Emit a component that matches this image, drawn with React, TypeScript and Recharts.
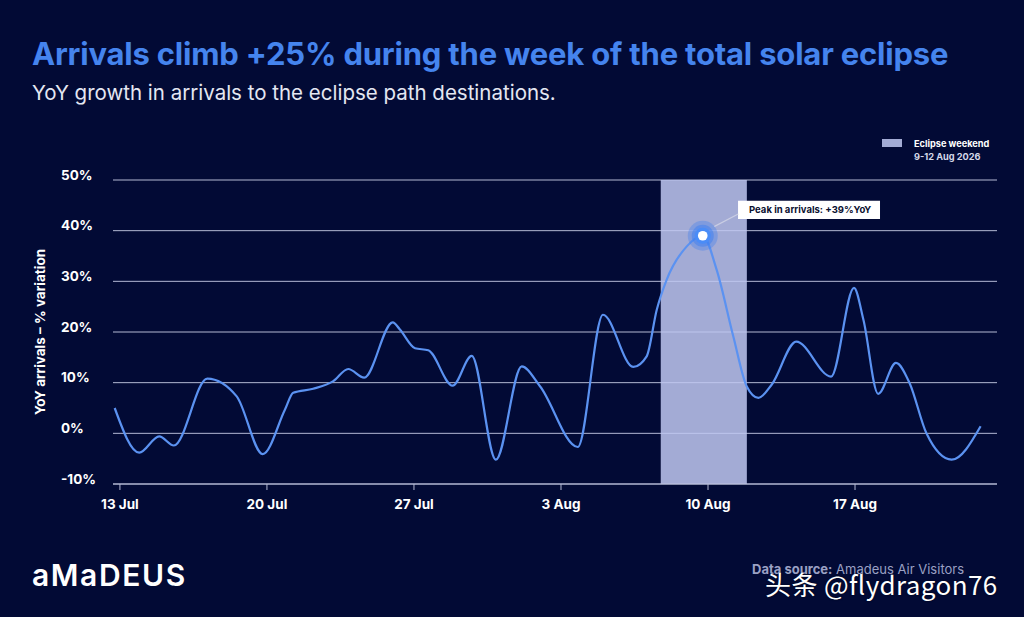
import React from "react";
import {
  CartesianGrid,
  Line,
  LineChart,
  ReferenceArea,
  ReferenceDot,
  ReferenceLine,
  XAxis,
  YAxis,
} from "recharts";

// days after 13 Jul (turning points and shoulders)
const dayOffsets = [
  -0.25, 0.92, 1.87, 2.57, 4.16, 5.56, 6.8, 7.86, 8.25, 9.2, 10.16, 10.87, 11.63, 12.99,
  13.33, 14.05, 14.68, 15.84, 16.75, 17.9, 19.13, 20.0, 21.8, 23.0, 24.44, 25.08, 25.56,
  26.03, 26.99, 27.75, 28.41, 29.2, 29.84, 30.4, 31.03, 32.2, 33.86, 34.95, 35.4, 36.1,
  36.95, 37.6, 38.4, 39.6, 40.98,
];
const yoyGrowth = [
  5.0, -3.8, -0.6, -2.4, 10.8, 7.3, -4.1, 4.7, 8.0, 8.8, 10.3, 12.7, 11.0, 21.9,
  20.5, 16.8, 16.4, 9.4, 15.3, -5.2, 13.2, 9.3, -2.7, 23.4, 13.1, 15.2, 24.4,
  30.3, 36.9, 39.0, 32.3, 19.2, 9.3, 7.0, 9.6, 18.1, 11.2, 28.7, 22.4, 7.8,
  13.9, 9.9, 0.0, -5.2, 1.4,
];

const xTicks = [0, 7, 14, 21, 28, 35];
const xTickLabels = ["13 Jul", "20 Jul", "27 Jul", "3 Aug", "10 Aug", "17 Aug"];
const yTicks = [-10, 0, 10, 20, 30, 40, 50];

const eclipseStart = 25.75;
const eclipseEnd = 29.85;
const peakDay = 27.75;
const peakValue = 39;

const data = dayOffsets.map((day, i) => ({ day, yoy: yoyGrowth[i] }));

const BG = "#020a35";
const FONT = "Inter, 'Noto Sans', sans-serif";

function YTick(props: any) {
  const { y, payload } = props;
  return (
    <text x={61} y={y - 5} dy="0.35em" textAnchor="start" fill="#ffffff" fontSize={13.5} fontWeight={700} fontFamily={FONT}>
      {payload.value}%
    </text>
  );
}

function PeakMarker(props: any) {
  const { cx, cy } = props;
  return (
    <g>
      <circle cx={cx} cy={cy} r={15} fill="#3d7ff2" fillOpacity={0.35} />
      <circle cx={cx} cy={cy} r={11} fill="#3d7ff2" fillOpacity={0.5} />
      <circle cx={cx} cy={cy} r={8} fill="#4a8cf7" />
      <circle cx={cx} cy={cy} r={4.8} fill="#ffffff" />
    </g>
  );
}

export default function App() {
  return (
    <div
      style={{
        position: "absolute",
        left: 0,
        top: 0,
        width: 1024,
        height: 617,
        background: BG,
        overflow: "hidden",
        fontFamily: FONT,
      }}
    >
      <div
        style={{
          position: "absolute",
          left: 32,
          top: 38,
          fontSize: 31,
          lineHeight: "31px",
          fontWeight: 700,
          color: "#4584ee",
          letterSpacing: -0.2,
          whiteSpace: "nowrap",
        }}
      >
        Arrivals climb +25% during the week of the total solar eclipse
      </div>
      <div
        style={{
          position: "absolute",
          left: 32,
          top: 82,
          fontSize: 20.5,
          lineHeight: "22px",
          color: "#e4e7f2",
          whiteSpace: "nowrap",
        }}
      >
        YoY growth in arrivals to the eclipse path destinations.
      </div>

      {/* legend */}
      <div style={{ position: "absolute", left: 882, top: 139, width: 20, height: 8, background: "#a3acd5" }} />
      <div
        style={{
          position: "absolute",
          left: 914,
          top: 137,
          fontSize: 9.2,
          lineHeight: "13px",
          fontWeight: 700,
          color: "#ffffff",
          whiteSpace: "nowrap",
        }}
      >
        Eclipse weekend
        <br />
        <span style={{ color: "#d4d8e8" }}>9-12 Aug 2026</span>
      </div>

      {/* y axis title */}
      <div
        style={{
          position: "absolute",
          left: 40,
          top: 332,
          transform: "translate(-50%, -50%) rotate(-90deg)",
          fontSize: 13.5,
          fontWeight: 700,
          color: "#ffffff",
          whiteSpace: "nowrap",
        }}
      >
        YoY arrivals – % variation
      </div>

      <div style={{ position: "absolute", left: 0, top: 0 }}>
        <LineChart width={1024} height={617} data={data} margin={{ top: 180, right: 27, bottom: 103, left: 0 }}>
          <CartesianGrid horizontal vertical={false} stroke="#b4b9d4" strokeWidth={1} />
          <ReferenceArea x1={eclipseStart} x2={eclipseEnd} fill="#bfc8f1" fillOpacity={0.85} stroke="none" />
          <XAxis
            type="number"
            dataKey="day"
            domain={[-0.33, 41.76]}
            ticks={xTicks}
            tickFormatter={(v: number) => xTickLabels[xTicks.indexOf(v)]}
            axisLine={{ stroke: "#b4b9d4" }}
            tickLine={{ stroke: "#b4b9d4" }}
            tickSize={6}
            tickMargin={9}
            tick={{ fill: "#ffffff", fontSize: 13.5, fontWeight: 700, fontFamily: FONT }}
            height={30}
          />
          <YAxis
            type="number"
            domain={[-10, 50]}
            ticks={yTicks}
            width={113}
            axisLine={false}
            tickLine={false}
            tick={<YTick />}
          />
          <Line
            type="monotone"
            dataKey="yoy"
            stroke="#5b92f1"
            strokeWidth={2.2}
            dot={false}
            activeDot={false}
            isAnimationActive={false}
          />
          <ReferenceLine
            segment={[
              { x: 28.29, y: 40.8 },
              { x: 29.44, y: 43.3 },
            ]}
            stroke="#c9cde3"
            strokeWidth={1.2}
          />
          <ReferenceArea
            x1={29.43}
            x2={36.19}
            y1={42.3}
            y2={45.9}
            fill="#ffffff"
            fillOpacity={1}
            stroke="none"
            label={{
              value: "Peak in arrivals: +39%YoY",
              position: "insideLeft",
              offset: 11,
              fill: "#0a1030",
              fontSize: 9.5,
              fontWeight: 700,
              fontFamily: FONT,
            }}
          />
          <ReferenceDot x={peakDay} y={peakValue} r={15} shape={<PeakMarker />} />
        </LineChart>
      </div>

      {/* footer */}
      <div
        style={{
          position: "absolute",
          left: 32,
          top: 559,
          fontSize: 30,
          lineHeight: "32px",
          fontWeight: 600,
          color: "#ffffff",
          letterSpacing: 1.6,
          whiteSpace: "nowrap",
        }}
      >
        aMaDEUS
      </div>
      <div
        style={{
          position: "absolute",
          left: 752,
          top: 562,
          fontSize: 13,
          lineHeight: "15px",
          color: "#9ba1c4",
          whiteSpace: "nowrap",
        }}
      >
        <b>Data source:</b> Amadeus Air Visitors
      </div>
      <div
        style={{
          position: "absolute",
          left: 765,
          top: 568,
          fontSize: 26,
          lineHeight: "32px",
          color: "#ffffff",
          fontFamily: "'Noto Sans CJK SC', 'Noto Sans', sans-serif",
          letterSpacing: 0.4,
          whiteSpace: "nowrap",
          textShadow: "0 0 2px rgba(0,0,0,0.6)",
        }}
      >
        头条 @flydragon76
      </div>
    </div>
  );
}
